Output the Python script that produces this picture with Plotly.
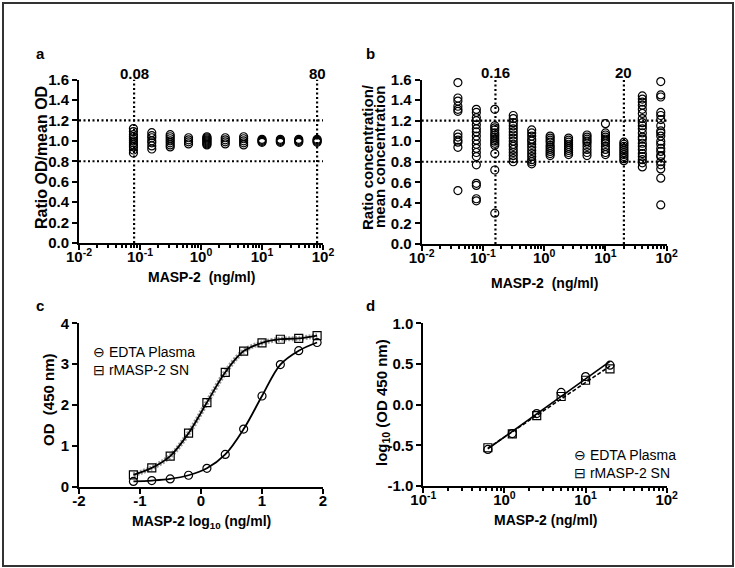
import numpy as np
import plotly.graph_objects as go

W, H = 735, 568
FONT = "Liberation Sans, Arial, sans-serif"

# ---- data ----
# panel a: ratio OD / mean OD per MASP-2 concentration (ng/ml)
conc_a = [0.078, 0.156, 0.3125, 0.625, 1.25, 2.5, 5, 10, 20, 40, 80]
ratio_od = [
    [1.12, 1.09, 1.06, 1.04, 1.02, 1.00, 0.98, 0.96, 0.94, 0.91, 0.88],
    [1.08, 1.05, 1.03, 1.00, 0.98, 0.95, 0.92],
    [1.06, 1.04, 1.02, 1.00, 0.98, 0.96, 0.94],
    [1.03, 1.01, 0.99, 0.97],
    [1.04, 1.03, 1.02, 1.01, 1.00, 0.99, 0.98, 0.97, 0.96],
    [1.03, 1.01, 0.99, 0.97],
    [1.04, 1.02, 1.00, 0.98, 0.96],
    [1.015, 1.005, 0.995, 0.985],
    [1.015, 1.005, 0.995, 0.985],
    [1.015, 1.005, 0.995, 0.985],
    [1.015, 1.005, 0.995, 0.985],
]

# panel b: ratio concentration / mean concentration
conc_b = [0.039, 0.078, 0.156, 0.3125, 0.625, 1.25, 2.5, 5, 10, 20, 40, 80]
ratio_conc = [
    [1.57, 1.42, 1.39, 1.34, 1.31, 1.29, 1.07, 1.04, 1.01, 0.99, 0.94, 0.52],
    [1.31, 1.28, 1.23, 1.20, 1.16, 1.12, 1.09, 1.05, 1.01, 0.97, 0.93, 0.89,
     0.85, 0.77, 0.59, 0.57, 0.44, 0.42],
    [1.31, 1.15, 1.13, 1.11, 1.08, 1.06, 1.04, 1.02, 1.00, 0.98, 0.96, 0.88,
     0.72, 0.30],
    [1.25, 1.22, 1.18, 1.15, 1.12, 1.09, 1.06, 1.03, 1.00, 0.97, 0.95, 0.92,
     0.89, 0.86, 0.83, 0.80],
    [1.11, 1.08, 1.05, 1.02, 1.00, 0.97, 0.94, 0.91, 0.88, 0.85, 0.82, 0.80, 0.78],
    [1.05, 1.03, 1.01, 0.99, 0.96, 0.94, 0.92, 0.90, 0.88, 0.86],
    [1.03, 1.01, 0.99, 0.97, 0.95, 0.93, 0.91, 0.89, 0.87],
    [1.06, 1.04, 1.02, 1.00, 0.98, 0.95, 0.92, 0.89, 0.86],
    [1.17, 1.08, 1.06, 1.04, 1.02, 1.00, 0.98, 0.95, 0.92, 0.89, 0.87],
    [0.99, 0.97, 0.95, 0.93, 0.91, 0.89, 0.87, 0.85, 0.83, 0.81],
    [1.44, 1.41, 1.38, 1.35, 1.31, 1.27, 1.22, 1.18, 1.15, 1.12, 1.08, 1.04,
     1.02, 0.98, 0.95, 0.92, 0.88, 0.85, 0.82, 0.79, 0.75],
    [1.58, 1.45, 1.43, 1.28, 1.25, 1.21, 1.15, 1.10, 1.08, 1.05, 1.00, 0.97,
     0.93, 0.90, 0.86, 0.85, 0.80, 0.77, 0.73, 0.64, 0.38],
]
limits_a = [0.08, 80]
limits_b = [0.16, 20]
ratio_limits = [0.8, 1.2]

# panel c: standard curves, OD 450 nm
od_edta = [0.13, 0.15, 0.19, 0.28, 0.45, 0.79, 1.41, 2.22, 2.99, 3.33, 3.53]
od_rmasp = [0.29, 0.46, 0.75, 1.31, 2.06, 2.80, 3.32, 3.52, 3.61, 3.63, 3.70]

# panel d: log10 OD in the linear range
conc_d = [0.625, 1.25, 2.5, 5, 10, 20]
logod_edta = [-0.55, -0.355, -0.11, 0.15, 0.345, 0.485]
logod_rmasp = [-0.53, -0.36, -0.135, 0.10, 0.30, 0.44]


def px(x, y):
    return x / W, 1 - y / H


def flat(conc, groups):
    xs = [c for c, g in zip(conc, groups) for _ in g]
    ys = [v for g in groups for v in g]
    return xs, ys


def log_ticks(lo, hi):
    vals = [10.0 ** e for e in range(lo, hi + 1)]
    text = [f"10<sup>{e}</sup>" for e in range(lo, hi + 1)]
    minor = [m * 10.0 ** e for e in range(lo, hi) for m in range(2, 10)]
    return vals, text, minor


axis_base = dict(
    showline=True, linecolor="black", linewidth=2, mirror=False,
    ticks="outside", ticklen=5, tickwidth=2, tickcolor="black",
    showgrid=False, zeroline=False, automargin=False,
    tickfont=dict(family=FONT, size=15, color="black", weight="bold"),
)
xaxis_base = dict(axis_base, ticklabelstandoff=-6)
minor_base = dict(ticks="outside", ticklen=3, tickwidth=1.5, tickcolor="black", showgrid=False)

open_circle = dict(symbol="circle-open", size=8, color="black", line=dict(width=1.2, color="black"))
open_square = dict(symbol="square-open", size=8, color="black", line=dict(width=1.2, color="black"))
dotted = dict(color="black", width=2.2, dash="2px,2.5px")

fig = go.Figure()

# ---- panel a ----
xa, ya = flat(conc_a, ratio_od)
for lim in ratio_limits:
    fig.add_trace(go.Scatter(x=[0.01, 100], y=[lim, lim], mode="lines", line=dotted,
                             xaxis="x", yaxis="y", hoverinfo="skip"))
for lim in limits_a:
    fig.add_trace(go.Scatter(x=[lim, lim], y=[0, 1.6], mode="lines", line=dotted,
                             xaxis="x", yaxis="y", hoverinfo="skip"))
fig.add_trace(go.Scatter(x=xa, y=ya, mode="markers", marker=open_circle, cliponaxis=False,
                         xaxis="x", yaxis="y"))

# ---- panel b ----
xb, yb = flat(conc_b, ratio_conc)
for lim in ratio_limits:
    fig.add_trace(go.Scatter(x=[0.01, 100], y=[lim, lim], mode="lines", line=dotted,
                             xaxis="x2", yaxis="y2", hoverinfo="skip"))
for lim in limits_b:
    fig.add_trace(go.Scatter(x=[lim, lim], y=[0, 1.6], mode="lines", line=dotted,
                             xaxis="x2", yaxis="y2", hoverinfo="skip"))
fig.add_trace(go.Scatter(x=xb, y=yb, mode="markers", marker=open_circle, cliponaxis=False,
                         xaxis="x2", yaxis="y2"))

# ---- panel c ----
logc = np.log10(conc_a)
fig.add_trace(go.Scatter(x=logc, y=od_rmasp, mode="lines", line_shape="spline",
                         line=dict(color="#9a9a9a", width=5, dash="2px,1.5px"),
                         xaxis="x3", yaxis="y3", hoverinfo="skip"))
fig.add_trace(go.Scatter(x=logc, y=od_edta, mode="lines+markers", line_shape="spline",
                         line=dict(color="black", width=1.8), marker=open_circle,
                         cliponaxis=False, name="EDTA Plasma", xaxis="x3", yaxis="y3"))
fig.add_trace(go.Scatter(x=logc, y=od_rmasp, mode="lines+markers", line_shape="spline",
                         line=dict(color="black", width=1.8), marker=open_square,
                         cliponaxis=False, name="rMASP-2 SN", xaxis="x3", yaxis="y3"))

# ---- panel d ----
logd = np.log10(conc_d)
for ys, dash, mk, name in [(logod_edta, "solid", open_circle, "EDTA Plasma"),
                           (logod_rmasp, "4px,2px", open_square, "rMASP-2 SN")]:
    k, b0 = np.polyfit(logd, ys, 1)
    xe = [conc_d[0], conc_d[-1]]
    fig.add_trace(go.Scatter(x=xe, y=[k * np.log10(v) + b0 for v in xe], mode="lines",
                             line=dict(color="black", width=1.6, dash=dash),
                             xaxis="x4", yaxis="y4", hoverinfo="skip"))
    fig.add_trace(go.Scatter(x=conc_d, y=ys, mode="markers", marker=mk, name=name,
                             cliponaxis=False, xaxis="x4", yaxis="y4"))

# ---- axes ----
tv2, tt2, mv2 = log_ticks(-2, 2)
tv1, tt1, mv1 = log_ticks(-1, 2)
ratio_ticks = [round(0.2 * i, 1) for i in range(9)]

xa_dom = [px(79, 0)[0], px(323, 0)[0]]
xb_dom = [px(421.7, 0)[0], px(666.7, 0)[0]]
xc_dom = [px(79, 0)[0], px(323, 0)[0]]
xd_dom = [px(423.3, 0)[0], px(666.7, 0)[0]]

fig.update_layout(
    xaxis=dict(xaxis_base, type="log", range=[-2, 2], domain=xa_dom, anchor="y",
               tickmode="array", tickvals=tv2, ticktext=tt2,
               minor=dict(minor_base, tickmode="array", tickvals=mv2)),
    yaxis=dict(axis_base, range=[0, 1.6], domain=[px(0, 243)[1], px(0, 79.5)[1]], anchor="x",
               tickmode="array", tickvals=ratio_ticks, ticktext=[f"{v:.1f}" for v in ratio_ticks]),
    xaxis2=dict(xaxis_base, type="log", range=[-2, 2], domain=xb_dom, anchor="y2",
                tickmode="array", tickvals=tv2, ticktext=tt2,
                minor=dict(minor_base, tickmode="array", tickvals=mv2)),
    yaxis2=dict(axis_base, range=[0, 1.6], domain=[px(0, 244)[1], px(0, 79.5)[1]], anchor="x2",
                tickmode="array", tickvals=ratio_ticks, ticktext=[f"{v:.1f}" for v in ratio_ticks]),
    xaxis3=dict(xaxis_base, range=[-2, 2], domain=xc_dom, anchor="y3",
                tickmode="array", tickvals=[-2, -1, 0, 1, 2], ticktext=["-2", "-1", "0", "1", "2"]),
    yaxis3=dict(axis_base, range=[0, 4], domain=[px(0, 486.7)[1], px(0, 323.3)[1]], anchor="x3",
                tickmode="array", tickvals=[0, 1, 2, 3, 4]),
    xaxis4=dict(xaxis_base, type="log", range=[-1, 2], domain=xd_dom, anchor="y4",
                tickmode="array", tickvals=tv1, ticktext=tt1,
                minor=dict(minor_base, tickmode="array", tickvals=mv1)),
    yaxis4=dict(axis_base, range=[-1, 1], domain=[px(0, 486)[1], px(0, 323.3)[1]], anchor="x4",
                tickmode="array", tickvals=[-1, -0.5, 0, 0.5, 1],
                ticktext=["-1.0", "-0.5", "0.0", "0.5", "1.0"]),
)

# ---- text ----
ann = []


def text(x, y, s, size=14, bold=True, angle=0, xanchor="center"):
    xp, yp = px(x, y)
    ann.append(dict(x=xp, y=yp, xref="paper", yref="paper", text=s, showarrow=False,
                    textangle=angle, xanchor=xanchor, yanchor="middle",
                    font=dict(family=FONT, size=size, color="black",
                              weight="bold" if bold else "normal")))


for lbl, x, y in [("a", 40, 53), ("b", 370, 53), ("c", 40, 305), ("d", 370, 305)]:
    text(x, y, lbl, size=15)

text(42, 158, "Ratio OD/mean OD", size=16, angle=-90)
text(201, 277, "MASP-2  (ng/ml)")
text(367, 157, "Ratio concentration/", size=15, angle=-90)
text(379, 157, "mean concentration", size=15, angle=-90)
text(544, 283, "MASP-2  (ng/ml)")
text(48, 400, "OD  (450 nm)", size=15, angle=-90)
text(201, 522, "MASP-2 log<sub>10</sub> (ng/ml)")
text(383, 402, "log<sub>10</sub> (OD 450 nm)", size=15, angle=-90)
text(545, 520, "MASP-2 (ng/ml)")

# limit labels above panels a and b
for lim, ax, y in [(limits_a[0], "x", 73), (limits_a[1], "x", 73),
                   (limits_b[0], "x2", 72), (limits_b[1], "x2", 72)]:
    ann.append(dict(x=np.log10(lim), y=px(0, y)[1], xref=ax, yref="paper", text=f"{lim:g}",
                    showarrow=False, yanchor="middle",
                    font=dict(family=FONT, size=15, color="black", weight="bold")))

# legends (c top-left, d bottom-right)
for x, y in [(91, 352), (572, 455)]:
    text(x, y, "\u2296 EDTA Plasma", bold=False, xanchor="left")
    text(x, y + 18, "\u229f rMASP-2 SN", bold=False, xanchor="left")

fig.update_layout(
    width=W, height=H, margin=dict(l=0, r=0, t=0, b=0, autoexpand=False),
    paper_bgcolor="white", plot_bgcolor="white", showlegend=False,
    annotations=ann,
    shapes=[dict(type="rect", xref="paper", yref="paper",
                 x0=px(3, 0)[0], x1=px(733, 0)[0], y0=px(0, 566)[1], y1=px(0, 3)[1],
                 line=dict(color="#333333", width=2))],
)

# page body margin would shift the 735x568 figure inside the window
fig.write_html("out.html", config={"displayModeBar": False},
               post_script="document.body.style.margin = '0';")
